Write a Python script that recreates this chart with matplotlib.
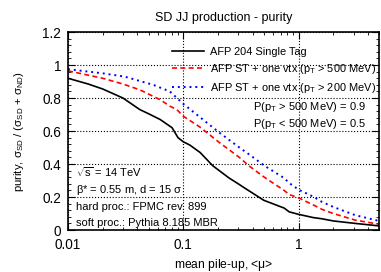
import numpy as np
import matplotlib
matplotlib.use("Agg")
import matplotlib.pyplot as plt
from matplotlib.ticker import LogLocator, NullFormatter, FixedLocator, FixedFormatter, MultipleLocator

plt.rcParams['font.family'] = ['Liberation Sans', 'DejaVu Sans']
plt.rcParams['mathtext.fontset'] = 'custom'
plt.rcParams['mathtext.rm'] = 'Liberation Sans'
plt.rcParams['mathtext.it'] = 'Liberation Sans'

# Data
mu_black = [0.01, 0.015, 0.02, 0.03, 0.042, 0.05, 0.063, 0.08, 0.09, 0.1, 0.114, 0.14, 0.18, 0.25, 0.3, 0.34, 0.5, 0.75, 0.83, 1.0, 1.35, 1.6, 2.0, 3.1, 5.0]
purity_single = [0.92, 0.885, 0.855, 0.80, 0.73, 0.705, 0.67, 0.62, 0.56, 0.535, 0.515, 0.47, 0.39, 0.315, 0.28, 0.255, 0.18, 0.133, 0.11, 0.095, 0.075, 0.068, 0.055, 0.04, 0.025]

mu_red = [0.01, 0.02, 0.03, 0.042, 0.063, 0.077, 0.088, 0.1, 0.139, 0.206, 0.307, 0.37, 0.505, 0.75, 0.83, 1.0, 1.36, 1.6, 2.0, 3.1, 5.0]
purity_vtx500 = [0.965, 0.92, 0.885, 0.85, 0.79, 0.75, 0.73, 0.69, 0.625, 0.53, 0.44, 0.39, 0.32, 0.24, 0.215, 0.195, 0.15, 0.125, 0.10, 0.06, 0.035]

mu_blue = [0.01, 0.02, 0.031, 0.055, 0.0765, 0.1, 0.139, 0.206, 0.307, 0.37, 0.505, 0.75, 0.83, 1.0, 1.36, 1.6, 2.0, 3.1, 5.0]
purity_vtx200 = [0.975, 0.95, 0.93, 0.88, 0.84, 0.765, 0.685, 0.59, 0.50, 0.46, 0.39, 0.315, 0.285, 0.245, 0.20, 0.17, 0.14, 0.09, 0.055]

xticks = [0.01, 0.1, 1]
xticklabels = ['0.01', '0.1', '1']
yticks = [0, 0.2, 0.4, 0.6, 0.8, 1.0, 1.2]
yticklabels = ['0', '0.2', '0.4', '0.6', '0.8', '1', '1.2']

labels = ["AFP 204 Single Tag",
          r"AFP ST + one vtx (p$_{\rm T}$ > 500 MeV)",
          r"AFP ST + one vtx (p$_{\rm T}$ > 200 MeV)"]

fig = plt.figure(figsize=(3.81, 2.72), dpi=100)
ax = fig.add_axes([0.1785, 0.1544, 0.8165, 0.7276])

ax.plot(mu_black, purity_single, color='black', lw=1.2, ls='-', label=labels[0])
ax.plot(mu_red, purity_vtx500, color='#ff0000', lw=1.2, ls=(0, (3, 2)), label=labels[1])
ax.plot(mu_blue, purity_vtx200, color='#0000ff', lw=1.4, ls=(0, (1, 2)), label=labels[2])

ax.set_xscale('log')
ax.set_xlim(0.01, 5.0)
ax.set_ylim(0, 1.2)
ax.xaxis.set_major_locator(FixedLocator(xticks))
ax.xaxis.set_major_formatter(FixedFormatter(xticklabels))
ax.xaxis.set_minor_locator(LogLocator(base=10, subs=np.arange(2, 10)))
ax.xaxis.set_minor_formatter(NullFormatter())
ax.yaxis.set_major_locator(FixedLocator(yticks))
ax.yaxis.set_major_formatter(FixedFormatter(yticklabels))
ax.yaxis.set_minor_locator(MultipleLocator(0.04))
ax.tick_params(which='both', direction='in', top=True, right=True, labelsize=9.8)
ax.tick_params(axis='x', which='major', pad=6)
ax.tick_params(axis='y', which='major', pad=5)
ax.tick_params(which='major', length=5, width=0.8)
ax.tick_params(which='minor', length=2.5, width=0.6)
for s in ax.spines.values():
    s.set_linewidth(1.2)

ax.grid(True, which='major', ls=':', color='black', lw=0.8)

ax.set_title("SD JJ production - purity", fontsize=9, pad=8)
ax.set_xlabel(r"mean pile-up, <$\mu$>", fontsize=8.7, labelpad=3)
ax.set_ylabel(r"purity, $\sigma_{\rm SD}$ / ($\sigma_{\rm SD}$ + $\sigma_{\rm ND}$)", fontsize=8.2, labelpad=12)

leg = ax.legend(loc='upper left', bbox_to_anchor=(0.335, 0.925), frameon=False, fontsize=7.9,
                handlelength=2.9, handletextpad=0.5, labelspacing=0.45, borderaxespad=0,
                borderpad=0)

tkw = dict(transform=ax.transAxes, fontsize=8.0, va='center', ha='left')
ax.text(0.595, 0.62, r"P(p$_{\rm T}$ > 500 MeV) = 0.9", **tkw)
ax.text(0.595, 0.535, r"P(p$_{\rm T}$ < 500 MeV) = 0.5", **tkw)
ax.text(0.027, 0.29, r"$\sqrt{\rm s}$ = 14 TeV", **tkw)
ax.text(0.027, 0.20, r"$\beta$* = 0.55 m, d = 15 $\sigma$", **tkw)
ax.text(0.027, 0.115, "hard proc.: FPMC rev. 899", **tkw)
ax.text(0.027, 0.035, "soft proc.: Pythia 8.185 MBR", **tkw)

fig.savefig("out.png", dpi=100)
